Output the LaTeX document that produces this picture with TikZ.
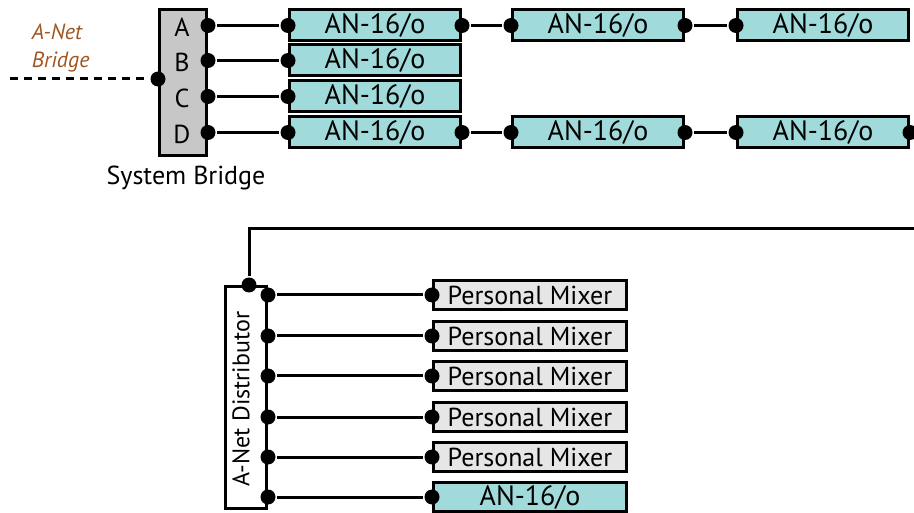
\documentclass[tikz,border=0pt]{standalone}
\usepackage{fontspec}
\setmainfont{PT Sans}
\definecolor{anteal}{RGB}{160,218,218}
\definecolor{bridgegray}{RGB}{199,199,200}
\definecolor{mixgray}{RGB}{230,230,230}
\definecolor{bridgebrown}{RGB}{160,84,30}
\begin{document}
\begin{tikzpicture}[x=1pt,y=-1pt,line width=3pt,
  box/.style={draw=black,line width=3pt,inner sep=0pt,minimum height=31pt},
  anbox/.style={box,fill=anteal,minimum width=171pt,font=\fontsize{28}{30}\selectfont},
  anboxw/.style={box,fill=anteal,minimum width=193pt,minimum height=29pt,font=\fontsize{28}{30}\selectfont},
  pmbox/.style={box,fill=mixgray,minimum width=193pt,minimum height=29pt,font=\fontsize{26}{28}\selectfont},
  sbbox/.style={draw=black,line width=3pt,fill=bridgegray,minimum width=47pt,minimum height=146pt,inner sep=0pt},
  distbox/.style={draw=black,line width=3pt,fill=white,minimum width=41pt,minimum height=222pt,inner sep=0pt},
  dot/.style={circle,fill=black,inner sep=0pt,minimum size=15pt},
  port/.style={font=\fontsize{26}{28}\selectfont,anchor=base},
  lbl/.style={font=\fontsize{26}{28}\selectfont},
  netlbl/.style={font=\fontsize{22}{24}\selectfont\itshape,text=bridgebrown,anchor=base west},
  wire/.style={draw=black,line width=3pt}]
\useasboundingbox (0,0) rectangle (914,513);

% ---------- top: system bridge ----------
\node[sbbox] (sb) at (183,82.5) {};
\node[port] (lA) at (182,37) {A};
\node[port] (lB) at (182,72) {B};
\node[port] (lC) at (182,108) {C};
\node[port] (lD) at (182,144) {D};
\node[lbl] (sbl) at (186,178) {System Bridge};

\node[netlbl] (nb1) at (27,40) {A-Net};
\node[netlbl] (nb2) at (27,68) {Bridge};

\node[anbox] (a1) at (375,25.5) {AN-16/o};
\node[anbox] (a2) at (375,60.5) {AN-16/o};
\node[anbox] (a3) at (375,96.5) {AN-16/o};
\node[anbox] (a4) at (375,132.5) {AN-16/o};
\node[anbox] (b1) at (598,25.5) {AN-16/o};
\node[anbox] (c1) at (823,25.5) {AN-16/o};
\node[anbox] (b4) at (598,132.5) {AN-16/o};
\node[anbox] (c4) at (823,132.5) {AN-16/o};

% dots
\node[dot] (sA) at (sb.east |- a1) {};
\node[dot] (sB) at (sb.east |- a2) {};
\node[dot] (sC) at (sb.east |- a3) {};
\node[dot] (sD) at (sb.east |- a4) {};
\node[dot] (sIn) at (158,79) {};
\coordinate (dashEnd) at (10,79);

\node[dot] (a1w) at (a1.west) {};
\node[dot] (a1e) at (a1.east) {};
\node[dot] (a2w) at (a2.west) {};
\node[dot] (a3w) at (a3.west) {};
\node[dot] (a4w) at (a4.west) {};
\node[dot] (a4e) at (a4.east) {};
\node[dot] (b1w) at (b1.west) {};
\node[dot] (b1e) at (b1.east) {};
\node[dot] (c1w) at (c1.west) {};
\node[dot] (b4w) at (b4.west) {};
\node[dot] (b4e) at (b4.east) {};
\node[dot] (c4w) at (c4.west) {};
\node[dot] (c4e) at (c4.east) {};

\draw[wire] (sA) -- (a1w);
\draw[wire] (sB) -- (a2w);
\draw[wire] (sC) -- (a3w);
\draw[wire] (sD) -- (a4w);
\draw[wire] (a1e) -- (b1w);
\draw[wire] (b1e) -- (c1w);
\draw[wire] (a4e) -- (b4w);
\draw[wire] (b4e) -- (c4w);
\draw[wire,dash pattern=on 8pt off 6pt] (dashEnd) -- (sIn);

% ---------- bottom: distributor ----------
\node[distbox] (dist) at (246,397.5) {};
\node[font=\fontsize{24}{26}\selectfont,rotate=90] (distl) at (241,399) {A-Net Distributor};
\node[dot] (dTop) at (249,285) {};
\coordinate (farEnd) at (914,229);
\draw[wire] (dTop) |- (farEnd);

\node[pmbox] (m1) at (530,295) {Personal Mixer};
\node[pmbox] (m2) at (530,336) {Personal Mixer};
\node[pmbox] (m3) at (530,376) {Personal Mixer};
\node[pmbox] (m4) at (530,417) {Personal Mixer};
\node[pmbox] (m5) at (530,457) {Personal Mixer};
\node[anboxw] (m6) at (530,497) {AN-16/o};

\foreach \m in {m1,m2,m3,m4,m5,m6}{
  \node[dot] (\m d) at (dist.east |- \m) {};
  \node[dot] (\m w) at (\m.west) {};
  \draw[wire] (\m d) -- (\m w);
}
\end{tikzpicture}
\end{document}
